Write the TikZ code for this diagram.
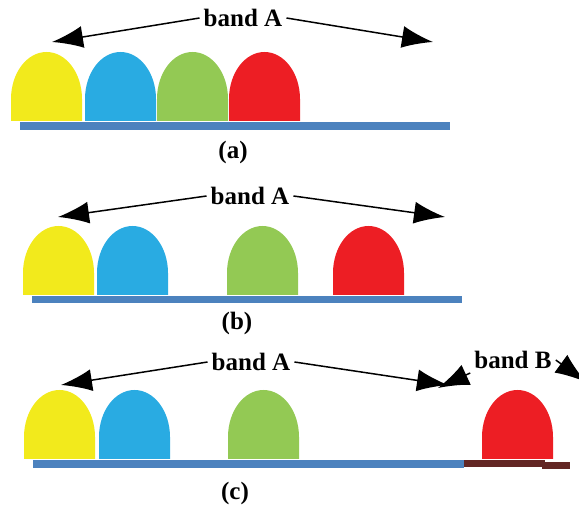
\documentclass[tikz,border=0pt]{standalone}
\usepackage{fontspec}
\setmainfont{Liberation Serif}
\usetikzlibrary{arrows.meta}
\definecolor{domeyellow}{RGB}{242,234,28}
\definecolor{domeblue}{RGB}{41,171,226}
\definecolor{domegreen}{RGB}{147,201,84}
\definecolor{domered}{RGB}{237,30,36}
\definecolor{barblue}{RGB}{76,130,190}
\definecolor{barbrown}{RGB}{99,38,36}
\tikzset{
	dome/.pic={\path[pic actions] (0,0) -- (0,22) arc[start angle=180,end angle=0,x radius=35.5,y radius=47] -- (71,0) -- cycle;},
	lbl/.style={font=\bfseries\fontsize{25}{30}\selectfont, inner sep=4pt},
	arrowline/.style={line width=1.5pt, -{Latex[length=31pt,width=22pt]}}
}

\begin{document}
\begin{tikzpicture}[x=1pt,y=1pt]
		\path[use as bounding box, clip] (0,0) rectangle (579,509);
		
		% (a)
		\node(lblAa) at (243,491) [lbl] {band A};
		\coordinate (aL) at (52,467);
		\coordinate (aR) at (433,467);
		\pic[fill=domeyellow] at (11,388) {dome};
		\pic[fill=domeblue] at (85,388) {dome};
		\pic[fill=domegreen] at (157,388) {dome};
		\pic[fill=domered] at (229,388) {dome};
		\fill[barblue] (20,379) rectangle (450,387);
		\node(capa) at (233,357) [lbl] {(a)};
		\draw[arrowline] (lblAa.west) -- (aL);
		\draw[arrowline] (lblAa.east) -- (aR);
		
		% (b)
		\node(lblAb) at (250,313) [lbl] {band A};
		\coordinate (bL) at (58,292);
		\coordinate (bR) at (445,292);
		\pic[fill=domeyellow] at (23,214) {dome};
		\pic[fill=domeblue] at (97,214) {dome};
		\pic[fill=domegreen] at (227,214) {dome};
		\pic[fill=domered] at (333,214) {dome};
		\fill[barblue] (32,206) rectangle (462,213);
		\node(capb) at (237,186) [lbl] {(b)};
		\draw[arrowline] (lblAb.west) -- (bL);
		\draw[arrowline] (lblAb.east) -- (bR);
		
		% (c)
		\node(lblAc) at (251,147) [lbl] {band A};
		\node(lblB) at (513,149) [lbl] {band B};
		\coordinate (cL) at (61,124);
		\coordinate (cR) at (448,124);
		\coordinate (cBL) at (438,121);
		\coordinate (cBR) at (586,127);
		\pic[fill=domeyellow] at (24,50) {dome};
		\pic[fill=domeblue] at (99,50) {dome};
		\pic[fill=domegreen] at (228,50) {dome};
		\pic[fill=domered] at (482,50) {dome};
		\fill[barblue] (33,41) rectangle (464,49);
		\fill[barbrown] (464,42) rectangle (545,49);
		\fill[barbrown] (542,40) rectangle (570,47);
		\node(capc) at (235,16) [lbl] {(c)};
		\draw[arrowline] (lblAc.west) -- (cL);
		\draw[arrowline] (lblAc.east) -- (cR);
		\draw[arrowline] (lblB.south west) -- (cBL);
		\draw[arrowline] (lblB.east) -- (cBR);
		
\end{tikzpicture}
\end{document}
